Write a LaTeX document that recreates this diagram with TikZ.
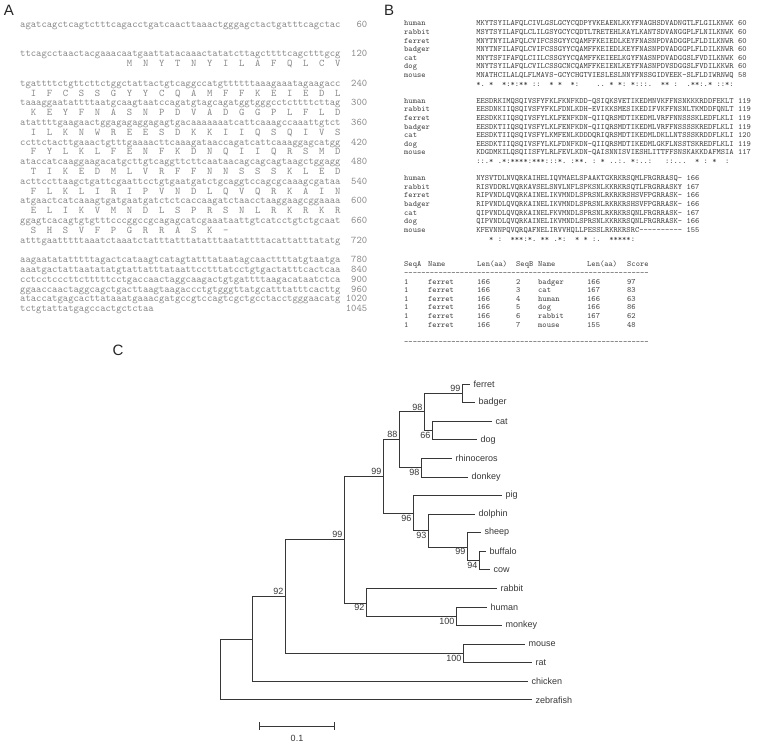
\documentclass[tikz,border=0pt]{standalone}
\usepackage{fontspec}
\newfontfamily\arialf{Liberation Sans}
\usetikzlibrary{calc}
\definecolor{seqgray}{RGB}{135,135,135}
\definecolor{alngray}{RGB}{70,70,70}
\definecolor{treegray}{RGB}{55,55,55}

\newcommand{\dnaLine}[2]{\makebox[31.5em][l]{#1}\makebox[2.625em][r]{#2}}
\makeatletter
\def\prot@loop#1{\ifx\relax#1\else#1\hspace*{1.05em}\expandafter\prot@loop\fi}
\newcommand{\protLine}[2][1.05]{\hspace*{#1em}\prot@loop#2\relax}
\makeatother
\newcommand{\alnLine}[3]{\makebox[8.925em][l]{#1}#2~#3}
\newcommand{\consLine}[1]{\hspace*{8.925em}#1}
\newcommand{\tabRow}[7]{\makebox[24pt][l]{#1}\makebox[49pt][l]{#2}\makebox[39pt][l]{#3}\makebox[22pt][l]{#4}\makebox[49pt][l]{#5}\makebox[40pt][l]{#6}#7}
\newcommand{\dashRow}{\foreach \k in {1,...,57}{-}}

\begin{document}
\begin{tikzpicture}[x=1pt,y=-1pt,
	dna/.style={anchor=base west, inner sep=0pt, text=seqgray, font=\ttfamily\fontsize{10.17}{12}\selectfont},
	aln/.style={anchor=base west, inner sep=0pt, text=alngray, font=\ttfamily\fontsize{8.08}{10}\selectfont},
	branch/.style={draw=treegray, line width=0.8pt},
	leaf/.style={anchor=west, inner sep=0pt, xshift=3.5pt, text=treegray, font=\arialf\fontsize{9}{10}\selectfont},
	boot/.style={inner sep=1.5pt, text=treegray, font=\arialf\fontsize{9}{10}\selectfont},
	panel/.style={inner sep=0pt, text=black!85, font=\arialf\fontsize{15}{16}\selectfont}]

		\useasboundingbox (0,0) rectangle (759,743);

		\node[panel] (labA) at (9,10) {A};
		\node[panel] (labB) at (389,10) {B};
		\node[panel] (labC) at (118,350) {C};

		\foreach \r/\txt in {
			0/{\dnaLine{agatcagctcagtctttcagacctgatcaacttaaactgggagctactgatttcagctac}{60}},
			3/{\dnaLine{ttcagcctaactacgaaacaatgaattatacaaactatatcttagcttttcagctttgcg}{120}},
			4/{\protLine[10.5]{MNYTNYILAFQLCV}},
			6/{\dnaLine{tgattttctgttcttctggctattactgtcaggccatgttttttaaagaaatagaagacc}{240}},
			7/{\protLine{IFCSSGYYCQAMFFKEIEDL}},
			8/{\dnaLine{taaaggaatattttaatgcaagtaatccagatgtagcagatggtgggcctcttttcttag}{300}},
			9/{\protLine{KEYFNASNPDVADGGPLFLD}},
			10/{\dnaLine{atattttgaagaactggagagaggagagtgacaaaaaaatcattcaaagccaaattgtct}{360}},
			11/{\protLine{ILKNWREESDKKIIQSQIVS}},
			12/{\dnaLine{ccttctacttgaaactgtttgaaaacttcaaagataaccagatcattcaaaggagcatgg}{420}},
			13/{\protLine{FYLKLFENFKDNQIIQRSMD}},
			14/{\dnaLine{ataccatcaaggaagacatgcttgtcaggttcttcaataacagcagcagtaagctggagg}{480}},
			15/{\protLine{TIKEDMLVRFFNNSSSKLED}},
			16/{\dnaLine{acttccttaagctgattcgaattcctgtgaatgatctgcaggtccagcgcaaagcgataa}{540}},
			17/{\protLine{FLKLIRIPVNDLQVQRKAIN}},
			18/{\dnaLine{atgaactcatcaaagtgatgaatgatctctcaccaagatctaacctaaggaagcggaaaa}{600}},
			19/{\protLine{ELIKVMNDLSPRSNLRKRKR}},
			20/{\dnaLine{ggagtcacagtgtgtttcccggccgcagagcatcgaaataattgtcatcctgtctgcaat}{660}},
			21/{\protLine{SHSVFPGRRASK-}},
			22/{\dnaLine{atttgaatttttaaatctaaatctatttatttatatttaatattttacattatttatatg}{720}},
			24/{\dnaLine{aagaatatatttttagactcataagtcatagtatttataatagcaacttttatgtaatga}{780}},
			25/{\dnaLine{aaatgactattaatatatgtattatttataattcctttatcctgtgactatttcactcaa}{840}},
			26/{\dnaLine{cctcctcccttctttttcctgaccaactaggcaagactgtgattttaagacataatctca}{900}},
			27/{\dnaLine{ggaaccaactaggcagctgacttaagtaagaccctgtgggttatgcatttatttcacttg}{960}},
			28/{\dnaLine{ataccatgagcacttataaatgaaacgatgccgtccagtcgctgcctacctgggaacatg}{1020}},
			29/{\dnaLine{tctgtattatgagccactgctctaa}{1045}}}
			\node[dna] (a\r) at (20,{27.5+9.8*\r}) {\txt};

		\foreach \r/\txt in {
			0/{\alnLine{human}{MKYTSYILAFQLCIVLGSLGCYCQDPYVKEAENLKKYFNAGHSDVADNGTLFLGILKNWK}{60}},
			1/{\alnLine{rabbit}{MSYTSYILAFQLCLILGSYGCYCQDTLTRETEHLKAYLKANTSDVANGGPLFLNILKNWK}{60}},
			2/{\alnLine{ferret}{MNYTNYILAFQLCVIFCSSGYYCQAMFFKEIEDLKEYFNASNPDVADGGPLFLDILKNWR}{60}},
			3/{\alnLine{badger}{MNYTNFILAFQLCVIFCSSGYYCQAMFFKEIEDLKEYFNASNPDVADGGPLFLDILKNWR}{60}},
			4/{\alnLine{cat}{MNYTSFIFAFQLCIILCSSGYYCQAMFFKEIEELKGYFNASNPDVADGGSLFVDILKNWK}{60}},
			5/{\alnLine{dog}{MNYTSYILAFQLCVILCSSGCNCQAMFFKEIENLKEYFNASNPDVSDGGSLFVDILKKWR}{60}},
			6/{\alnLine{mouse}{MNATHCILALQLFLMAVS-GCYCHGTVIESLESLNNYFNSSGIDVEEK-SLFLDIWRNWQ}{58}},
			7/{\consLine{*.~*~~*:*:**~::~~*~*~~*:~~~~..~*~*:~*:::.~~**~:~~.**:.*~::*:}},
			9/{\alnLine{human}{EESDRKIMQSQIVSFYFKLFKNFKDD-QSIQKSVETIKEDMNVKFFNSNKKKRDDFEKLT}{119}},
			10/{\alnLine{rabbit}{EESDNKIIQSQIVSFYFKLFDNLKDH-EVIKKSMESIKEDIFVKFFNSNLTKMDDFQNLT}{119}},
			11/{\alnLine{ferret}{EESDKKIIQSQIVSFYLKLFENFKDN-QIIQRSMDTIKEDMLVRFFNNSSSKLEDFLKLI}{119}},
			12/{\alnLine{badger}{EESDKTIIQSQIVSFYLKLFENFKDN-QIIQRSMDTIKEDMLVRFFNSSSSKREDFLKLI}{119}},
			13/{\alnLine{cat}{EESDKTIIQSQIVSFYLKMFENLKDDDQRIQRSMDTIKEDMLDKLLNTSSSKRDDFLKLI}{120}},
			14/{\alnLine{dog}{EESDKTIIQSQIVSFYLKLFDNFKDN-QIIQRSMDTIKEDMLGKFLNSSTSKREDFLKLI}{119}},
			15/{\alnLine{mouse}{KDGDMKILQSQIISFYLRLFEVLKDN-QAISNNISVIESHLITTFFSNSKAKKDAFMSIA}{117}},
			16/{\consLine{::.*~.*:****:***:::*.~:**.~:~*~..:.~*:..:~~~::...~~*~:~*~~:}},
			18/{\alnLine{human}{NYSVTDLNVQRKAIHELIQVMAELSPAAKTGKRKRSQMLFRGRRASQ-}{166}},
			19/{\alnLine{rabbit}{RISVDDRLVQRKAVSELSNVLNFLSPKSNLKKRKRSQTLFRGRRASKY}{167}},
			20/{\alnLine{ferret}{RIPVNDLQVQRKAINELIKVMNDLSPRSNLRKRKRSHSVFPGRRASK-}{166}},
			21/{\alnLine{badger}{RIPVNDLQVQRKAINELIKVMNDLSPRSNLRKRKRSHSVFPGRRASK-}{166}},
			22/{\alnLine{cat}{QIPVNDLQVQRKAINELFKVMNDLSPRSNLRKRKRSQNLFRGRRASK-}{167}},
			23/{\alnLine{dog}{QIPVNDLQVQRKAINELIKVMNDLSPRSNLKKRKRSQNLFRGRRASK-}{166}},
			24/{\alnLine{mouse}{KFEVNNPQVQRQAFNELIRVVHQLLPESSLRKRKRSRC-{}-{}-{}-{}-{}-{}-{}-{}-{}-}{155}},
			25/{\consLine{~~~*~:~~***:*.~**~.*:~~*~*~:.~~*****:}},
			28/{\tabRow{SeqA}{Name}{Len(aa)}{SeqB}{Name}{Len(aa)}{Score}},
			29/{\dashRow},
			30/{\tabRow{1}{ferret}{166}{2}{badger}{166}{97}},
			31/{\tabRow{1}{ferret}{166}{3}{cat}{167}{83}},
			32/{\tabRow{1}{ferret}{166}{4}{human}{166}{63}},
			33/{\tabRow{1}{ferret}{166}{5}{dog}{166}{86}},
			34/{\tabRow{1}{ferret}{166}{6}{rabbit}{167}{62}},
			35/{\tabRow{1}{ferret}{166}{7}{mouse}{155}{48}},
			37/{\dashRow}}
			\node[aln] (b\r) at (404,{26+8.6*\r}) {\txt};

		\foreach \name/\x/\r in {ferret/470/0, badger/475/1, cat/492/2, dog/477/3,
			rhinoceros/452/4, donkey/468/5, pig/502/6, dolphin/475/7, sheep/481/8,
			buffalo/486/9, cow/490/10, rabbit/497/11, human/487/12, monkey/502/13,
			mouse/525/14, rat/532/15, chicken/528/16, zebrafish/532/17} {
			\coordinate (\name) at (\x,{384+18.58*\r});
			\node[leaf] (\name-lab) at (\name) {\name};
		}

		\coordinate (nFB) at (462,393.3);
		\coordinate (nCD) at (432,430.2);
		\coordinate (nCarn) at (424,411.8);
		\coordinate (nRD) at (421,467.4);
		\coordinate (n88) at (399,439.6);
		\coordinate (nBC) at (479,560.8);
		\coordinate (nSh) at (467,546.9);
		\coordinate (nDo) at (428,530.5);
		\coordinate (nPig) at (413,513.2);
		\coordinate (n99a) at (383,476.4);
		\coordinate (nHM) at (456,616.8);
		\coordinate (nRab) at (366,602.9);
		\coordinate (n99b) at (344,539.7);
		\coordinate (nMR) at (463,653.8);
		\coordinate (n92) at (285,596.7);
		\coordinate (nCh) at (252,639.1);
		\coordinate (root) at (220,669.6);

		\foreach \p/\c in {nFB/ferret, nFB/badger, nCD/cat, nCD/dog, nCarn/nFB, nCarn/nCD,
			nRD/rhinoceros, nRD/donkey, n88/nCarn, n88/nRD, nBC/buffalo, nBC/cow,
			nSh/sheep, nSh/nBC, nDo/dolphin, nDo/nSh, nPig/pig, nPig/nDo,
			n99a/n88, n99a/nPig, nHM/human, nHM/monkey, nRab/rabbit, nRab/nHM,
			n99b/n99a, n99b/nRab, nMR/mouse, nMR/rat, n92/n99b, n92/nMR,
			nCh/n92, nCh/chicken, root/nCh, root/zebrafish}
			\draw[branch] (\p) |- (\c);

		\foreach \n/\v/\pos in {nFB/99/above left, nCarn/98/above left, nCD/66/below left,
			n88/88/above left, nRD/98/below left, n99a/99/above left, nPig/96/below left,
			nDo/93/below left, nSh/99/below left, nBC/94/below left, n99b/99/above left,
			nRab/92/below left, nHM/100/below left, nMR/100/below left, n92/92/above left}
			\node[boot,\pos] (\n-bs) at (\n) {\v};

		\coordinate (sb0) at (259,726);
		\coordinate (sb1) at (335,726);
		\draw[branch,|-|] (sb0) -- (sb1);
		\node[boot] (sbLab) at ($(sb0)!0.5!(sb1)+(0,12)$) {0.1};

	\end{tikzpicture}
\end{document}
